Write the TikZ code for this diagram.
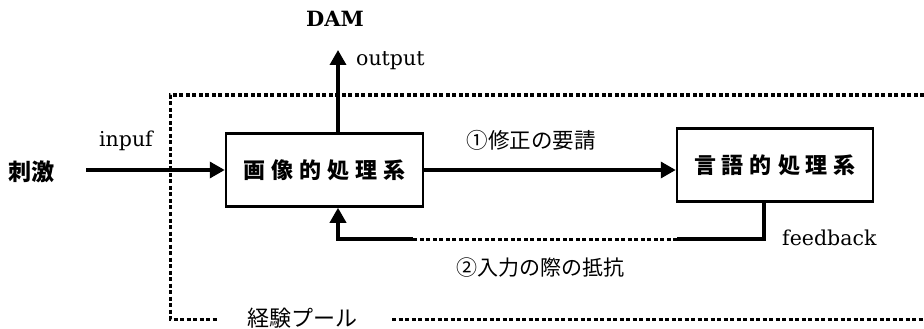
\documentclass[tikz,border=0pt]{standalone}
\usepackage{fontspec}
\setmainfont{DejaVu Serif}
\newfontfamily\jp{Noto Sans CJK JP}
\usetikzlibrary{arrows.meta}
\tikzset{
  box/.style={draw, line width=2.5pt, minimum width=197pt, minimum height=73pt, inner sep=0pt, font=\jp\bfseries\fontsize{22}{24}\selectfont},
  lat/.style={inner sep=0pt, font=\fontsize{20.5}{22}\selectfont},
  jlab/.style={inner sep=0pt, font=\jp\fontsize{21}{23}\selectfont},
  conn/.style={line width=3.4pt, -{Triangle[length=15pt,width=16pt]}},
  plain/.style={line width=3.4pt},
  dots/.style={line width=3pt, dash pattern=on 4pt off 2.5pt},
}
\newcommand{\chsp}{\hspace{6pt}}
\begin{document}
\begin{tikzpicture}[x=1pt,y=-1pt]
\useasboundingbox (0,0) rectangle (924,329);
% frame
\coordinate (frTR) at (924,95);
\coordinate (frTL) at (170,95);
\coordinate (frBL) at (170,319);
\coordinate (frB1) at (218,319);
\coordinate (frB2) at (392,319);
\coordinate (frBR) at (924,319);
\draw[dots] (frTR) -- (frTL) -- (frBL) -- (frB1);
\draw[dots] (frB2) -- (frBR);
\node[jlab, font=\jp\fontsize{22}{24}\selectfont] (pool) at (302,318) {経験プール};
% boxes
\node[box] (b1) at (324.5,170) {画\chsp 像\chsp 的\chsp 処\chsp 理\chsp 系};
\node[box, minimum width=196pt] (b2) at (775,165) {言\chsp 語\chsp 的\chsp 処\chsp 理\chsp 系};
% texts
\node[lat, font=\bfseries\fontsize{21}{23}\selectfont] (dam) at (335,19) {DAM};
\node[lat, anchor=west] (out) at (356,61) {output};
\node[lat] (inp) at (126,141) {inpuf};
\node[jlab, font=\jp\bfseries\fontsize{23}{25}\selectfont] (stim) at (32,172) {刺激};
\node[jlab, font=\jp\fontsize{21.5}{23}\selectfont] (req) at (531,140) {①修正の要請};
\node[jlab] (res) at (540,268) {②入力の際の抵抗};
\node[lat, anchor=west] (fb) at (782,238) {feedback};
% connectors
\coordinate (inS) at (86,170);
\draw[conn] (inS) -- (b1.west);
\coordinate (outT) at (338,50);
\draw[conn] (outT |- b1.north) -- (outT);
\draw[conn] (b1.east) -- (b1.east -| b2.west);
\coordinate (fbR) at (764,239);
\coordinate (fbA) at (677,239);
\coordinate (fbB) at (413,239);
\coordinate (fbL) at (338,239);
\draw[plain] (fbR |- b2.south) -- (fbR) -- (fbA);
\draw[dots] (fbA) -- (fbB);
\draw[conn] (fbB) -- (fbL) -- (fbL |- b1.south);
\end{tikzpicture}
\end{document}
